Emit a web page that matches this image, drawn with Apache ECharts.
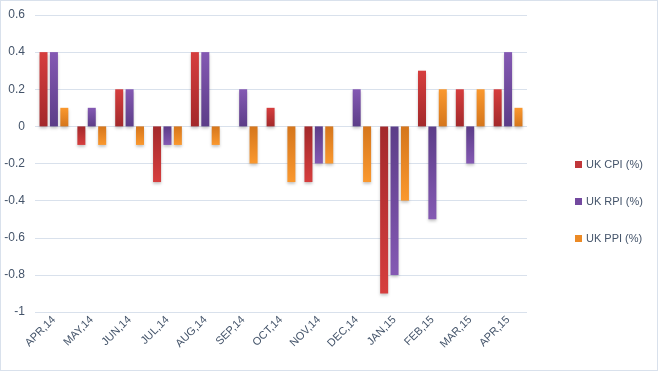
<!DOCTYPE html>
<html>
<head>
<meta charset="utf-8">
<script src="https://cdn.jsdelivr.net/npm/echarts@6/dist/echarts.min.js"></script>
<style>
html,body{margin:0;padding:0;background:#fff;}
#c{width:658px;height:371px;box-sizing:border-box;border:1px solid #d9e1ec;}
</style>
</head>
<body>
<div id="c"></div>
<script>
const categories = ['APR,14','MAY,14','JUN,14','JUL,14','AUG,14','SEP,14','OCT,14','NOV,14','DEC,14','JAN,15','FEB,15','MAR,15','APR,15'];
const cpi = [0.4, -0.1, 0.2, -0.3, 0.4, 0, 0.1, -0.3, 0, -0.9, 0.3, 0.2, 0.2];
const rpi = [0.4, 0.1, 0.2, -0.1, 0.4, 0.2, 0, -0.2, 0.2, -0.8, -0.5, -0.2, 0.4];
const ppi = [0.1, -0.1, -0.1, -0.1, -0.1, -0.2, -0.3, -0.2, -0.3, -0.4, 0.2, 0.2, 0.1];
const seriesNames = ['UK CPI (%)', 'UK RPI (%)', 'UK PPI (%)'];

const palette = [
  {light:'#d63e3e', dark:'#a3292b', legend:'#c0363a'},
  {light:'#8459b3', dark:'#5c3d88', legend:'#73499f'},
  {light:'#fa982e', dark:'#d5761c', legend:'#ec8a25'}
];

function grad(v, p){
  const light = p.light, dark = p.dark;
  if (v >= 0) {
    return new echarts.graphic.LinearGradient(0,0,0,1,[{offset:0,color:light},{offset:1,color:dark}]);
  }
  return new echarts.graphic.LinearGradient(0,0,0,1,[{offset:0,color:dark},{offset:1,color:light}]);
}

function makeSeries(name, values, p){
  return {
    name: name,
    type: 'bar',
    barWidth: 8,
    barGap: '30%',
    itemStyle: {color: p.legend, shadowBlur: 3, shadowColor: 'rgba(0,0,0,0.22)', shadowOffsetY: 2},
    data: values.map(v => ({value: v, itemStyle: {color: grad(v, p)}}))
  };
}

const chart = echarts.init(document.getElementById('c'), null, {renderer:'canvas'});
chart.setOption({
  animation: false,
  backgroundColor: '#ffffff',
  color: palette.map(p => p.legend),
  textStyle: {fontFamily: 'Liberation Sans, Arial, sans-serif'},
  grid: {left: 34, right: 130, top: 14, bottom: 58, containLabel: false},
  legend: {
    orient: 'vertical',
    left: 574,
    top: 158,
    padding: 0,
    itemWidth: 7,
    itemHeight: 7,
    itemGap: 26,
    icon: 'rect',
    textStyle: {color: '#44546a', fontSize: 11, padding: [0,0,0,-1], fontFamily: 'Liberation Sans, Arial, sans-serif'},
    data: seriesNames
  },
  xAxis: {
    type: 'category',
    data: categories,
    position: 'bottom',
    axisLine: {show: false},
    axisTick: {show: false},
    splitLine: {show: false},
    axisLabel: {
      rotate: 45,
      color: '#44546a',
      fontSize: 11,
      margin: 6,
      interval: 0
    }
  },
  yAxis: {
    type: 'value',
    min: -1,
    max: 0.6,
    interval: 0.2,
    axisLine: {show: false},
    axisTick: {show: false},
    splitLine: {lineStyle: {color: '#d9e1ec', width: 1}},
    axisLabel: {
      color: '#44546a',
      fontSize: 12,
      margin: 10,
      formatter: v => String(parseFloat(v.toFixed(1)))
    }
  },
  series: [
    makeSeries(seriesNames[0], cpi, palette[0]),
    makeSeries(seriesNames[1], rpi, palette[1]),
    makeSeries(seriesNames[2], ppi, palette[2])
  ]
});
</script>
</body>
</html>
